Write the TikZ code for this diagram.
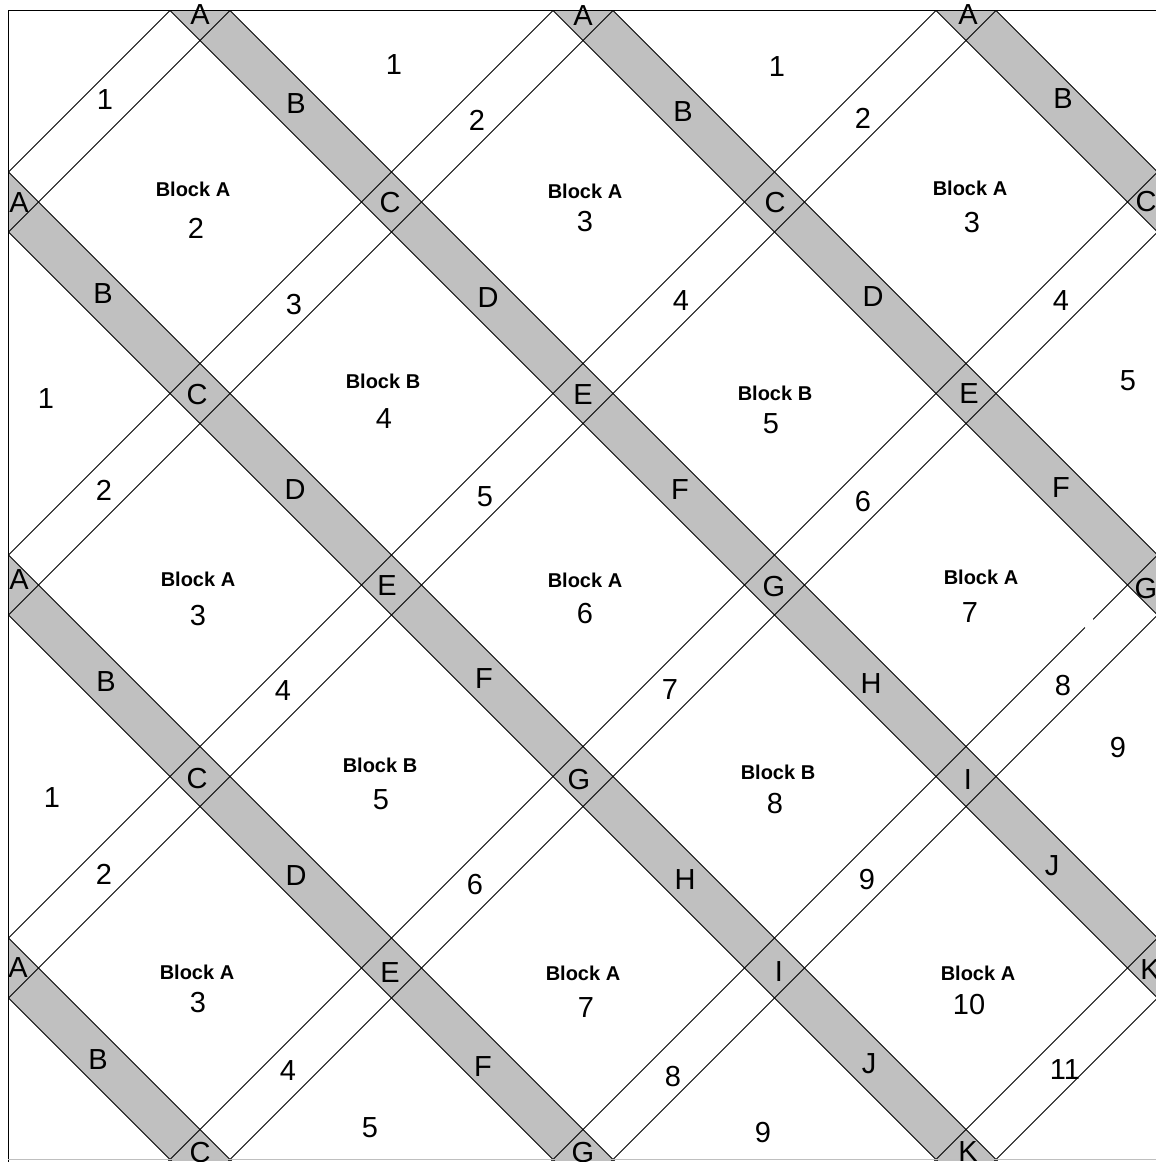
\documentclass[tikz,border=0pt]{standalone}
\usepackage{fontspec}
\setmainfont{Liberation Sans}
\begin{document}
\begin{tikzpicture}[x=1pt,y=-1pt]
\definecolor{sash}{RGB}{192,192,192}
\tikzset{
  edge/.style={draw=black, line width=1pt},
  lbl/.style={inner sep=0pt, font=\fontsize{29}{29}\selectfont},
  blk/.style={inner sep=0pt, font=\bfseries\fontsize{20}{20}\selectfont},
}
\useasboundingbox (0,0) rectangle (1156,1162);
\fill[white] (0,0) rectangle (1156,1162);
\begin{scope}
  \clip (8,10) rectangle (1158,1160);
  \begin{scope}[shift={(8.5,10.5)}, x={(191.5pt,0pt)}, y={(0pt,-191.5pt)}]
    % gray (NW-SE) strips along m-n = t
    \foreach \t in {-5,-3,...,5} {
      \fill[sash] ({\t-6+0.07833},{-6-0.07833}) -- ({\t+12+0.07833},{12-0.07833})
        -- ({\t+12-0.07833},{12+0.07833}) -- ({\t-6-0.07833},{-6+0.07833}) -- cycle;
    }
    % edges of gray strips
    \foreach \t in {-5,-3,...,5} {
      \foreach \o in {-0.07833,0.07833} {
        \draw[edge] ({\t-6-\o},{-6+\o}) -- ({\t+12-\o},{12+\o});
      }
    }
    % edges of white (SW-NE) strips along m+n = r
    \foreach \r in {1,3,...,11} {
      \foreach \o in {-0.07833,0.07833} {
        \draw[edge] ({-6+\o},{\r+6+\o}) -- ({12+\o},{\r-12+\o});
      }
    }
    % small break in a line
    \draw[white, line width=2.5pt] ({5.700-0.07833},{9-5.700-0.07833}) -- ({5.742-0.07833},{9-5.742-0.07833});
  \end{scope}
\end{scope}
% border
\draw[edge] (8,1162) -- (8,10) -- (1158,10);
\draw[black!25, line width=0.8pt] (8,1159.5) -- (1156,1159.5);

% letters on the gray strips
\foreach \x/\y/\s [count=\i] in {
  200/15/A, 296/104/B, 390/203/C, 488/298/D, 583/395/E, 680/490/F, 774/587/G, 871/684/H, 968/780/I, 1052/866/J, 1150/970/K,
  583/16/A, 683/112/B, 775/203/C, 873/297/D, 969/394/E, 1061/488/F, 1146/589/G,
  968/15/A, 1063/99/B, 1146/202/C,
  19/203/A, 103/294/B, 197/395/C, 295/490/D, 387/586/E, 484/679/F, 579/780/G, 685/880/H, 779/972/I, 869/1064/J, 968/1152/K,
  19/580/A, 106/682/B, 197/779/C, 296/876/D, 390/973/E, 483/1067/F, 583/1153/G,
  18/968/A, 98/1060/B, 200/1153/C}
  \node[lbl] (g\i) at (\x,\y) {\s};

% numbers on the white strips and setting triangles
\foreach \x/\y/\s [count=\i] in {
  105/100/1, 104/490/2, 294/305/3, 477/120/2, 104/874/2, 283/691/4, 485/497/5, 681/301/4, 863/118/2,
  288/1071/4, 475/885/6, 670/690/7, 863/502/6, 1061/301/4, 673/1077/8, 867/880/9, 1063/686/8, 1065/1070/11,
  394/65/1, 777/67/1, 46/399/1, 52/798/1, 1128/381/5, 1118/748/9, 370/1128/5, 763/1133/9}
  \node[lbl] (w\i) at (\x,\y) {\s};

% blocks
\foreach \x/\y/\k/\u/\v/\n [count=\i] in {
  193/189/A/196/228/2, 585/191/A/585/222/3, 970/188/A/972/223/3,
  383/381/B/384/419/4, 775/393/B/771/424/5,
  198/579/A/198/616/3, 585/580/A/585/614/6, 981/577/A/970/613/7,
  380/765/B/381/800/5, 778/772/B/775/804/8,
  197/972/A/198/1003/3, 583/973/A/586/1008/7, 978/973/A/969/1005/10}
{
  \node[blk] (bt\i) at (\x,\y) {Block \k};
  \node[lbl] (bn\i) at (\u,\v) {\n};
}
\end{tikzpicture}
\end{document}
